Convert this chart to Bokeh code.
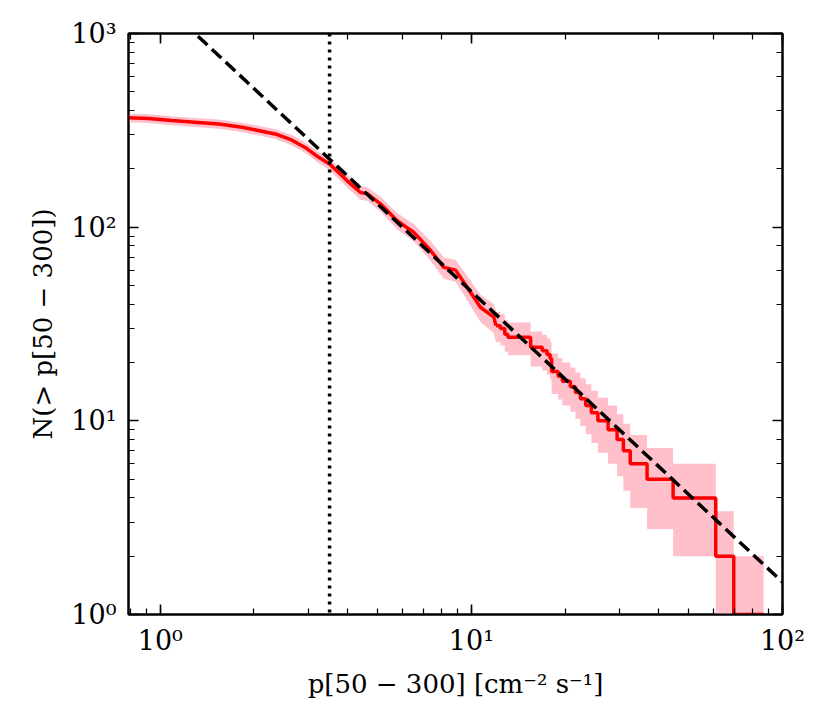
import numpy as np
from bokeh.plotting import figure
from bokeh.models import LogAxis, LogTicker, CustomJSTickFormatter, Span, Range1d
from bokeh.embed import file_html
from bokeh.resources import INLINE

# ---- data ----
# smooth (densely sampled) part of the cumulative distribution N(>p)
head_p = [0.79, 0.915, 1.087, 1.29, 1.54, 1.83, 2.12, 2.34, 2.64, 2.92, 3.22, 3.50,
          3.98, 4.40, 4.62, 5.10, 5.77, 6.53, 7.38, 8.15, 8.89, 9.69, 10.69, 11.8, 12.0]
head_N = [367, 364, 355, 348, 341, 328, 313, 303, 282, 258, 230, 212,
          174, 151, 149, 132, 108, 94, 76, 62, 60, 49, 38.6, 34.3, 31]
# stepped tail of N(>p)
tail_p = [12.0, 12.4, 12.8, 13.1, 15.5, 16.9, 17.5, 17.9, 18.1, 19.0, 19.6, 20.8, 21.6,
          22.4, 23.3, 24.3, 25.5, 27.5, 29.4, 30.8, 32.4, 36.7, 44.5, 61.0, 69.7, 87.0]
tail_N = [31, 30, 28, 27, 24, 23, 22, 21, 18, 17, 16, 15, 14,
          13, 12, 11, 10, 9, 8, 7, 6, 5, 4, 2, 1, 1]
# power-law fit N = fit_norm * p**fit_index
fit_norm = 1470.0
fit_index = -1.5
fit_p = [0.79, 100.0]
# completeness threshold
p_threshold = 3.5

x_lim = (0.79, 100.0)
y_lim = (1.0, 1000.0)
x_label = "p[50 \u2212 300] [cm\u207b\u00b2 s\u207b\u00b9]"
y_label = "N(> p[50 \u2212 300])"

# ---- layout (pixels) ----
W, H = 822, 716
BL, BR, BT, BB = 128, 40, 33, 102

p = figure(width=W, height=H, x_axis_type="log", y_axis_type="log",
           x_range=Range1d(*x_lim), y_range=Range1d(*y_lim),
           output_backend="svg", toolbar_location=None,
           min_border_left=BL, min_border_right=BR, min_border_top=BT,
           min_border_bottom=BB)
p.grid.visible = False
p.outline_line_color = "black"
p.outline_line_width = 2

hN = np.array(head_N, dtype=float)
tN = np.array(tail_N, dtype=float)
floor = 0.5
p.varea(x=head_p, y1=np.maximum(hN - np.sqrt(hN), floor), y2=hN + np.sqrt(hN),
        fill_color="#FFC0CB", fill_alpha=1.0)
p.varea_step(x=tail_p, y1=np.maximum(tN - np.sqrt(tN), floor), y2=tN + np.sqrt(tN),
             step_mode="after", fill_color="#FFC0CB", fill_alpha=1.0)

p.line(head_p, head_N, line_color="#FF0000", line_width=3.5)
p.step(tail_p, tail_N, mode="after", line_color="#FF0000", line_width=3.5)

fit_N = [fit_norm * x ** fit_index for x in fit_p]
p.line(fit_p, fit_N, line_color="black", line_width=3.5, line_dash="13 6")

p.add_layout(Span(location=p_threshold, dimension="height", line_color="black",
                  line_width=3.5, line_dash="3 5"))

sup_code = r"""
const sup = {"0":"\u2070","1":"\u00b9","2":"\u00b2","3":"\u00b3","4":"\u2074",
             "5":"\u2075","6":"\u2076","7":"\u2077","8":"\u2078","9":"\u2079","-":"\u207b"};
const e = Math.round(Math.log10(tick));
return "10" + String(e).split("").map(c => sup[c]).join("");
"""

def style(ax):
    ax.axis_line_width = 2
    ax.axis_line_color = "black"
    ax.major_tick_in = 10
    ax.major_tick_out = 0
    ax.minor_tick_in = 6
    ax.minor_tick_out = 0
    ax.major_tick_line_width = 1.6
    ax.minor_tick_line_width = 1.2
    ax.major_tick_line_color = "black"
    ax.minor_tick_line_color = "black"
    ax.major_label_text_font = "DejaVu Serif"
    ax.major_label_text_font_size = "27px"
    ax.major_label_text_color = "black"

for ax in (p.xaxis[0], p.yaxis[0]):
    style(ax)
    ax.formatter = CustomJSTickFormatter(code=sup_code)
    ax.axis_label_text_font = "DejaVu Serif"
    ax.axis_label_text_font_size = "26px"
    ax.axis_label_text_font_style = "normal"
    ax.axis_label_text_color = "black"
p.xaxis[0].major_label_standoff = 10
p.yaxis[0].major_label_standoff = 12
p.xaxis[0].axis_label = x_label
p.yaxis[0].axis_label = y_label
p.xaxis[0].axis_label_standoff = 10
p.yaxis[0].axis_label_standoff = 10

top = LogAxis(ticker=LogTicker(), formatter=CustomJSTickFormatter(code="return '';"))
right = LogAxis(ticker=LogTicker(), formatter=CustomJSTickFormatter(code="return '';"))
for ax in (top, right):
    style(ax)
    ax.major_label_text_font_size = "0px"
    ax.major_label_standoff = 0
p.add_layout(top, "above")
p.add_layout(right, "right")

open("out.html", "w").write(file_html(p, INLINE))
